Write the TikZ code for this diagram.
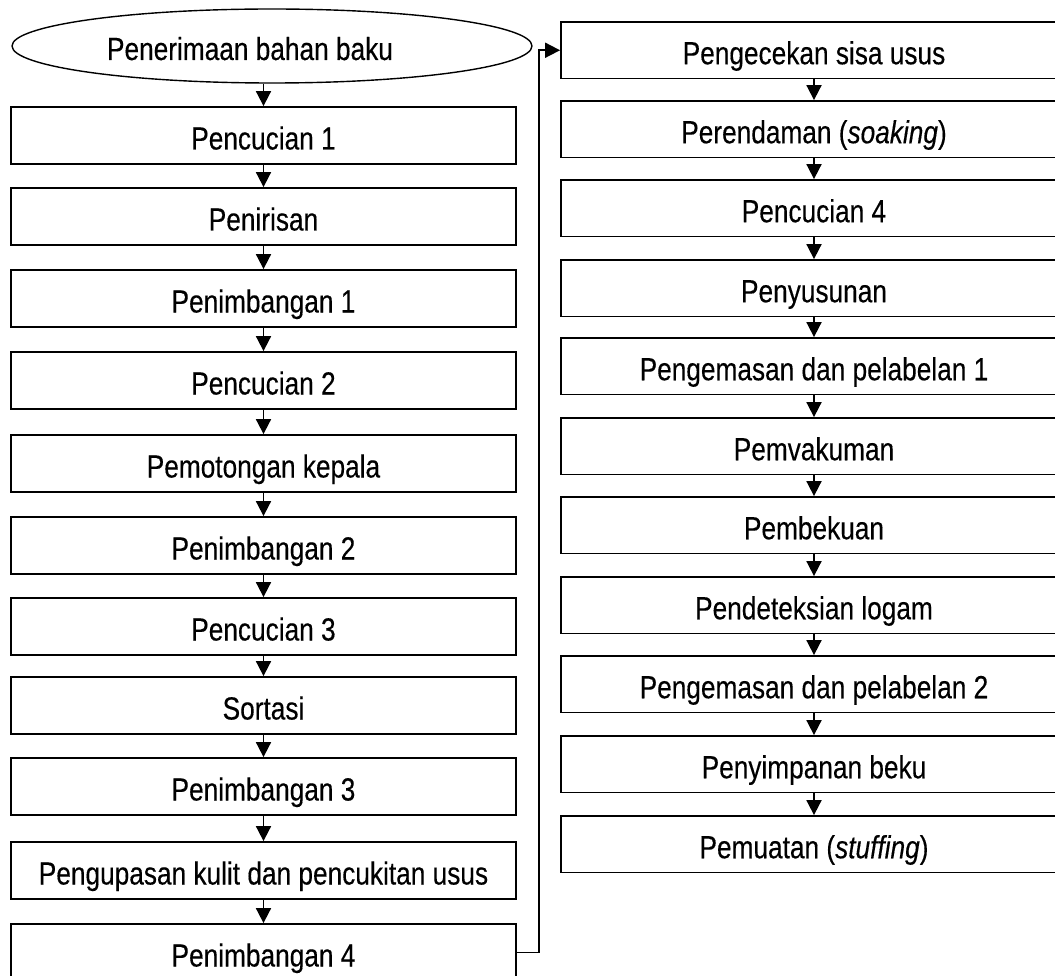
\documentclass[tikz,border=0pt]{standalone}
\usepackage{fontspec}
\setmainfont{Liberation Sans}[FakeStretch=0.82,FakeBold=0.3]
\usetikzlibrary{shapes.geometric,arrows.meta}
\tikzset{
  txt/.style={font=\fontsize{32pt}{36pt}\selectfont,text height=28pt,text depth=0pt},
  procbox/.style={txt,draw,line width=1.8pt,rectangle,minimum width=505pt,minimum height=57pt,inner sep=0pt},
  rprocbox/.style={txt,draw,line width=1.8pt,rectangle,minimum width=506pt,minimum height=56.5pt,inner sep=0pt},
  startshape/.style={txt,draw,line width=1.4pt,ellipse,minimum width=520pt,minimum height=74pt,inner sep=0pt},
  arr/.style={line width=1.8pt,-{Triangle[length=15pt,width=15pt]}}
}
\begin{document}
\begin{tikzpicture}[x=1pt,y=-1pt]
\useasboundingbox (0,0) rectangle (1055,976);
\node[startshape] (e) at (272,46) {Penerimaan bahan baku\kern44pt};
% left column
\node[procbox] (b1) at (263.5,135.5) {Pencucian 1};
\node[procbox] (b2) at (263.5,216.5) {Penirisan};
\node[procbox] (b3) at (263.5,298.5) {Penimbangan 1};
\node[procbox] (b4) at (263.5,380.5) {Pencucian 2};
\node[procbox] (b5) at (263.5,463.5) {Pemotongan kepala};
\node[procbox] (b6) at (263.5,545.5) {Penimbangan 2};
\node[procbox] (b7) at (263.5,626.5) {Pencucian 3};
\node[procbox] (b8) at (263.5,705.5) {Sortasi};
\node[procbox] (b9) at (263.5,786.5) {Penimbangan 3};
\node[procbox] (b10) at (263.5,870.5) {Pengupasan kulit dan pencukitan usus};
\node[procbox] (b11) at (263.5,952.5) {Penimbangan 4};
% right column
\node[rprocbox] (r1) at (814,50.25) {Pengecekan sisa usus};
\node[rprocbox] (r2) at (814,129.25) {Perendaman (\textit{soaking})};
\node[rprocbox] (r3) at (814,208.25) {Pencucian 4};
\node[rprocbox] (r4) at (814,288.25) {Penyusunan};
\node[rprocbox] (r5) at (814,366.25) {Pengemasan dan pelabelan 1};
\node[rprocbox] (r6) at (814,446.25) {Pemvakuman};
\node[rprocbox] (r7) at (814,525.25) {Pembekuan};
\node[rprocbox] (r8) at (814,605.25) {Pendeteksian logam};
\node[rprocbox] (r9) at (814,684.25) {Pengemasan dan pelabelan 2};
\node[rprocbox] (r10) at (814,764.25) {Penyimpanan beku};
\node[rprocbox] (r11) at (814,844.25) {Pemuatan (\textit{stuffing})};
% connectors
\draw[arr] (e.south -| b1.north) -- (b1.north);
\foreach \a/\b in {b1/b2,b2/b3,b3/b4,b4/b5,b5/b6,b6/b7,b7/b8,b8/b9,b9/b10,b10/b11,
                   r1/r2,r2/r3,r3/r4,r4/r5,r5/r6,r6/r7,r7/r8,r8/r9,r9/r10,r10/r11}
  \draw[arr] (\a.south) -- (\b.north);
\draw[arr] (b11.east) -- ++(22,0) |- (r1.west);
\end{tikzpicture}
\end{document}
